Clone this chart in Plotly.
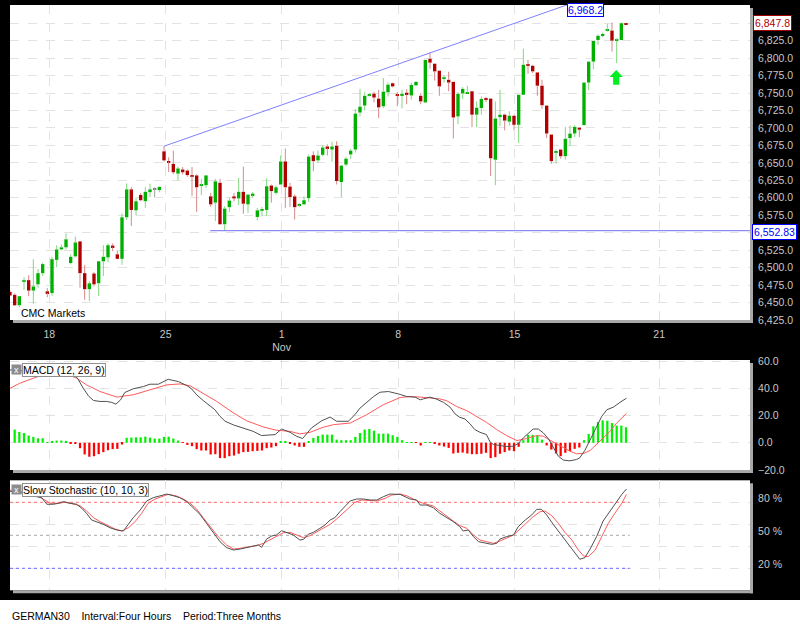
import plotly.graph_objects as go

W, H = 800, 625

# ---------------- data ----------------
opens = [6465, 6461, 6446, 6480, 6482, 6467, 6476, 6492, 6466, 6463.5,
         6511, 6526, 6529, 6506.5, 6516, 6537.5, 6492, 6469, 6491.5, 6477.5,
         6509, 6514.5, 6531.5, 6519, 6512.5, 6572, 6612, 6582, 6604, 6595,
         6608, 6612, 6611, 6666.5, 6652, 6648.5, 6634.5, 6640.5, 6639, 6632,
         6632, 6617.5, 6618, 6602, 6593, 6621.5, 6562, 6586.5, 6602, 6599,
         6608.5, 6590.5, 6603.5, 6572.5, 6582.5, 6582.5, 6617.5, 6607, 6619, 6652,
         6616, 6602, 6589.5, 6590.5, 6599.5, 6661, 6653.5, 6661.5, 6673.5, 6669,
         6674.5, 6622.5, 6647.5, 6662, 6669, 6722, 6732, 6746.5, 6749, 6742,
         6731, 6751, 6764, 6747.5, 6746.5, 6750.5, 6746.5, 6761, 6746, 6736.5,
         6799, 6792, 6782, 6770.5, 6769, 6766, 6716.5, 6749.5, 6749.5, 6752.5,
         6719, 6728.5, 6742, 6742, 6654.5, 6715.5, 6719, 6709, 6717.5, 6704.5,
         6747.5, 6790.5, 6789, 6779.5, 6760.5, 6732, 6690.5, 6665, 6669, 6659.5,
         6685.5, 6692, 6700.5, 6704, 6765, 6795, 6826, 6832, 6839.5, 6839.5,
         6825, 6826, 6849]
highs = [6467, 6463, 6459.5, 6486, 6489, 6512, 6498, 6507, 6470.5, 6515.5,
         6532, 6533, 6549, 6519, 6544.5, 6537.5, 6503.5, 6480.5, 6493.5, 6509,
         6532, 6534.5, 6534.5, 6524.5, 6577.5, 6620.5, 6615.5, 6600, 6607, 6615,
         6620, 6615, 6616.5, 6674, 6658, 6667.5, 6644.5, 6644, 6640.5, 6644,
         6633.5, 6627, 6632, 6607, 6627, 6627, 6588, 6600, 6607, 6628.5,
         6644.5, 6605.5, 6608.5, 6585.5, 6587, 6628, 6619, 6617.5, 6660.5, 6670.5,
         6621.5, 6604.5, 6592, 6602, 6662, 6666.5, 6667.5, 6675.5, 6676.5, 6680,
         6681, 6647.5, 6658.5, 6670, 6727, 6756, 6751, 6750, 6752, 6754.5,
         6771.5, 6765, 6765, 6751.5, 6754.5, 6755.5, 6765, 6767, 6750, 6797.5,
         6808, 6792, 6782, 6775.5, 6780.5, 6766, 6751.5, 6758.5, 6760.5, 6752.5,
         6738, 6745, 6744.5, 6742, 6738, 6754.5, 6720.5, 6724, 6717.5, 6747.5,
         6813.5, 6797.5, 6790.5, 6779.5, 6769, 6732, 6690.5, 6669, 6669, 6701.5,
         6703.5, 6704, 6700.5, 6765, 6795, 6824.5, 6834, 6836.5, 6849, 6851,
         6828.5, 6851, 6849.5]
lows = [6459, 6445, 6443, 6468, 6459, 6448, 6471, 6488, 6457.5, 6459.5,
        6500.5, 6524.5, 6526, 6504.5, 6514.5, 6471, 6454, 6452, 6473, 6459.5,
        6488, 6508, 6523.5, 6512, 6504, 6568, 6559.5, 6575, 6595, 6585.5,
        6601, 6601, 6608, 6652, 6637, 6634, 6625, 6633.5, 6630, 6602.5,
        6579.5, 6604, 6614, 6587, 6566.5, 6562, 6552.5, 6579.5, 6595, 6589.5,
        6577, 6578.5, 6600, 6567.5, 6574, 6574, 6593, 6604.5, 6619, 6585.5,
        6587, 6569, 6587, 6590.5, 6594, 6638, 6650, 6659.5, 6660.5, 6651.5,
        6619, 6601, 6645, 6655.5, 6665, 6716.5, 6725, 6745, 6736.5, 6714,
        6728.5, 6745, 6758, 6731, 6728, 6734, 6740.5, 6759.5, 6734, 6736.5,
        6785, 6768, 6746, 6765, 6752.5, 6685, 6705.5, 6741.5, 6749, 6701,
        6701, 6719, 6737, 6631, 6618, 6702.5, 6696.5, 6703.5, 6696.5, 6678.5,
        6747.5, 6777.5, 6778.5, 6746, 6727.5, 6685.5, 6649, 6649, 6656, 6654.5,
        6674, 6687, 6687, 6704, 6754, 6784, 6819, 6830, 6838, 6809.5,
        6793, 6826, 6847.5]
closes = [6460, 6446, 6459, 6481, 6467, 6473, 6492, 6505, 6463.5, 6512,
          6526, 6529, 6540.5, 6515.5, 6536, 6492, 6469, 6477.5, 6476, 6509,
          6515.5, 6532, 6529, 6512.5, 6572, 6612, 6582.5, 6595, 6596.5, 6608.5,
          6612, 6612, 6615.5, 6653.5, 6651, 6636.5, 6642, 6636.5, 6632.5, 6631.5,
          6615, 6618.5, 6632, 6590.5, 6623.5, 6562, 6584.5, 6596, 6599, 6608.5,
          6591.5, 6604.5, 6606, 6582, 6583.5, 6616.5, 6609.5, 6615, 6652, 6615,
          6601, 6586.5, 6591, 6596.5, 6659, 6652.5, 6660.5, 6672, 6671, 6673.5,
          6624, 6646, 6656, 6667.5, 6720.5, 6730.5, 6746, 6748, 6743.5, 6729.5,
          6752, 6762, 6759.5, 6746.5, 6749, 6748, 6761.5, 6766, 6738, 6797.5,
          6793.5, 6781, 6759.5, 6771.5, 6765, 6715, 6749, 6756, 6750.5, 6719,
          6729, 6741.5, 6740.5, 6656.5, 6713.5, 6719, 6710.5, 6717.5, 6704.5, 6747.5,
          6790.5, 6789.5, 6781, 6760.5, 6732.5, 6692, 6652.5, 6666.5, 6659.5, 6684.5,
          6692, 6701.5, 6697.5, 6765, 6795, 6824.5, 6832, 6834.5, 6840.5, 6825,
          6826, 6850, 6847.8]

macd_hist = [None, 9.7, 8.0, 7.2, 5.3, 4.3, 3.3, 3.3, 0.3, 1.1,
             1.6, 1.6, 1.4, -0.2, -0.6, -4.0, -8.6, -10.3, -9.9, -8.4,
             -6.9, -5.5, -4.7, -4.5, -1.3, 3.6, 3.8, 4.0, 4.0, 4.5,
             3.8, 3.1, 3.1, 4.3, 4.5, 3.1, 1.6, -0.1, -1.6, -2.5,
             -4.7, -5.7, -5.7, -8.6, -8.4, -11.3, -11.3, -9.9, -9.4, -8.1,
             -6.9, -6.7, -6.2, -6.0, -5.7, -4.0, -3.5, -2.5, 0.9, 0.9,
             -0.8, -2.0, -3.0, -3.0, 1.1, 3.6, 5.0, 6.0, 6.0, 6.0,
             2.3, 1.9, 1.9, 1.9, 4.3, 7.2, 9.7, 10.1, 8.9, 6.7,
             6.7, 6.7, 5.5, 4.3, 1.9, 0.4, 0.1, -0.1, -2.0, 0.2,
             0.4, -0.2, -2.0, -2.8, -3.8, -7.9, -7.4, -7.2, -7.9, -8.4,
             -8.4, -8.1, -7.4, -11.3, -10.6, -8.1, -6.9, -5.7, -6.2, -3.0,
             1.9, 5.8, 5.8, 5.3, 2.3, -2.0, -5.0, -7.9, -9.9, -7.4,
             -6.2, -4.5, -3.5, 1.9, 6.5, 12.1, 15.3, 16.5, 16.2, 14.5,
             12.6, 12.6, 11.4]

macd_x = [0, 5, 7.1, 9.3, 11.4, 13.6, 14.6, 15.7, 16.8, 17.9, 19.3, 20.7, 21.8, 22.7,
          23.7, 24.6, 26.4, 28.6, 30.0, 31.8, 33.9, 36.1, 37.9, 38.9, 40.0, 41.4,
          42.9, 43.9, 45.0, 46.1, 47.9, 50.0, 52.1, 53.9, 55.0, 56.8, 58.2, 60.0,
          61.4, 62.7, 64.6, 66.8, 68.6, 70.0, 72.5, 73.9, 75.0, 76.4, 77.9, 79.3,
          81.1, 83.6, 85.0, 86.8, 87.9, 88.6, 90.0, 91.4, 92.9, 94.3, 95.4, 96.4,
          97.5, 98.6, 99.6, 100.7, 102.1, 102.9, 103.6, 105.0, 106.4, 107.9, 108.9,
          110.0, 111.1, 112.1, 113.2, 114.3, 115.4, 116.4, 117.5, 118.6, 120.0,
          121.4, 122.1, 123.2, 124.3, 125.7, 126.8, 127.9, 129.3, 130.7, 132.1]
macd_v = [53.6, 52.3, 49.7, 50.9, 51.6, 50.9, 46.7, 40.1, 34.5, 31.1, 30.4, 30.4, 29.7, 28.4,
          31.6, 37.0, 39.7, 41.4, 43.1, 43.1, 46.7, 45.0, 42.1, 39.7, 35.3, 31.1,
          27.2, 24.3, 19.4, 15.8, 13.1, 10.9, 8.4, 5.3, 5.5, 6.0, 10.1, 7.7,
          4.8, 3.1, 10.9, 16.2, 18.9, 15.8, 15.8, 20.6, 25.5, 29.7, 34.0, 37.2,
          37.7, 35.6, 34.0, 33.6, 31.6, 32.3, 33.6, 32.1, 29.7, 26.2, 21.1, 18.7,
          17.5, 13.8, 9.7, 7.7, 6.0, 0.4, -1.3, -2.0, -2.8, -2.5, -0.6,
          3.6, 7.2, 10.1, 10.1, 7.2, 2.8, -3.0, -9.9, -12.8, -13.3,
          -12.3, -11.1, -5.5, 1.9, 11.6, 19.4, 24.3, 26.2, 29.7, 32.8]

signal_x = [0, 2.1, 5.0, 7.1, 9.3, 12.1, 14.3, 16.4, 19.3, 22.9, 26.4, 30.0, 33.6, 36.4,
            38.6, 40.7, 44.3, 47.9, 50.7, 54.3, 57.1, 60.0, 62.1, 64.3, 67.1, 69.3,
            72.9, 76.4, 80.0, 83.6, 85.7, 87.9, 90.0, 92.1, 93.6, 95.7, 97.9, 100.0,
            102.1, 104.3, 106.4, 108.6, 110.7, 112.9, 114.3, 115.7, 117.1, 118.6,
            120.0, 121.4, 122.9, 124.3, 125.7, 127.1, 128.6, 130.0, 131.1, 132.1]
signal_v = [40.1, 43.8, 47.5, 49.9, 50.6, 50.6, 47.5, 42.6, 37.7, 33.6, 35.3, 38.9, 42.6, 43.3,
            41.9, 37.7, 30.4, 21.9, 16.2, 11.6, 9.2, 8.4, 6.5, 7.7, 11.4, 13.3,
            14.5, 20.6, 28.0, 33.3, 34.0, 33.6, 32.8, 32.3, 30.9, 26.7, 23.6, 19.4,
            15.0, 9.7, 5.3, 1.6, 3.1, 5.3, 4.8, 1.9, -0.6, -3.8,
            -6.2, -8.1, -7.9, -5.7, -1.3, 3.6, 8.4, 14.5, 18.2, 21.6]

stoch_k_x = [0, 2, 4.3, 5.7, 6.8, 7.9, 9.3, 10.4, 11.4, 12.9, 14.3, 15.4, 16.4, 17.5, 18.6,
             20.0, 21.4, 22.9, 24.3, 25.4, 26.4, 27.9, 29.3, 30.7, 32.1, 33.6, 35.0,
             36.4, 37.9, 39.3, 40.7, 42.1, 43.6, 45.0, 46.4, 47.9, 49.3, 50.7, 52.1,
             53.2, 53.9, 55.0, 56.1, 57.1, 58.2, 59.3, 60.7, 62.1, 62.9, 63.9, 65.0,
             66.4, 67.5, 68.6, 69.6, 70.7, 71.8, 72.9, 74.3, 75.7, 77.1, 78.6, 80.0,
             81.4, 83.6, 84.6, 85.7, 87.1, 87.9, 89.3, 90.7, 92.1, 93.6, 95.0, 96.4,
             97.1, 98.2, 99.3, 100.4, 101.4, 102.5, 103.2, 104.3, 105.0, 106.4, 107.9,
             108.9, 110.4, 111.8, 112.9, 113.9, 115.0, 116.4, 117.9, 119.3, 120.7,
             122.1, 123.2, 124.3, 125.7, 127.1, 128.6, 130.0, 131.1, 132.1]
stoch_k_v = [90.0, 89.0, 87.5, 85.1, 84.2, 78.2, 78.2, 79.1, 80.6, 79.1, 78.2, 74.5, 70.0, 63.9, 62.4,
             60.0, 56.9, 54.8, 53.9, 60.0, 66.0, 73.0, 81.2, 84.2, 86.0, 87.5, 86.0,
             84.2, 80.6, 75.1, 69.1, 60.9, 51.8, 44.2, 38.8, 36.6, 37.5, 38.8, 40.0,
             41.2, 39.1, 46.6, 49.4, 50.3, 54.2, 52.7, 50.3, 45.7, 46.3, 50.9, 52.7,
             56.3, 59.4, 63.9, 66.0, 71.5, 76.0, 81.2, 83.0, 83.0, 82.1, 82.1, 85.1,
             87.5, 87.2, 85.1, 83.0, 82.1, 77.5, 77.5, 75.1, 70.0, 66.0, 62.4, 57.8,
             53.9, 54.8, 48.8, 44.2, 43.3, 42.7, 41.8, 42.7, 46.6, 48.8, 50.3,
             57.8, 63.9, 68.5, 73.6, 73.6, 68.5, 60.0, 51.8, 44.2, 36.6,
             28.2, 29.7, 37.5, 48.8, 63.0, 72.1, 80.6, 87.2, 92.1]

stoch_d_x = [0, 2, 4.3, 5.7, 7.1, 8.6, 10.4, 11.8, 13.2, 15.0, 16.4, 17.9, 19.3, 20.7, 22.5,
             23.9, 25.4, 26.8, 28.2, 29.6, 31.1, 32.9, 33.9, 35.7, 37.1, 38.6, 40.0,
             41.4, 42.9, 44.6, 46.4, 47.9, 49.3, 51.1, 52.9, 54.3, 55.7, 57.1, 58.6,
             60.0, 61.4, 62.9, 64.3, 65.7, 67.1, 68.6, 70.0, 71.4, 72.9, 73.9, 75.4,
             77.1, 78.6, 80.4, 81.8, 83.6, 85.0, 86.4, 87.9, 89.3, 90.7, 92.1, 93.6,
             95.0, 96.4, 97.9, 99.3, 100.7, 102.1, 103.6, 105.0, 106.4, 107.9, 109.3,
             110.7, 112.1, 113.6, 114.6, 116.1, 117.5, 118.9, 120.4, 121.8, 122.9,
             123.9, 125.4, 126.8, 128.2, 129.6, 131.1, 132.1]
stoch_d_v = [91.0, 90.0, 88.1, 86.0, 83.0, 79.1, 79.1, 80.0, 78.8, 76.9, 72.1, 66.0, 62.4, 59.4, 55.7,
             53.9, 56.9, 62.4, 70.0, 79.1, 83.0, 85.7, 87.2, 85.7, 83.0, 79.1, 73.9,
             66.0, 57.8, 48.8, 41.2, 37.5, 38.2, 39.1, 40.6, 42.7, 45.7, 49.4, 52.4,
             52.7, 50.3, 47.8, 49.7, 53.3, 56.3, 60.0, 64.8, 70.0, 76.0, 80.0, 82.1,
             81.8, 81.2, 83.6, 86.6, 87.5, 86.0, 83.0, 80.0, 78.2, 76.6, 72.1, 67.8,
             63.0, 58.8, 56.3, 50.3, 45.7, 44.2, 42.7, 44.8, 47.8, 50.3, 55.7,
             60.9, 66.9, 71.5, 72.1, 67.8, 60.9, 52.7, 45.7, 36.6, 31.2,
             30.6, 36.6, 48.8, 60.9, 70.0, 79.1, 87.2]

date_tick_pos = [8.42, 33.36, 58.2, 83.2, 108.1, 139.1]
date_tick_text = ["18", "25", "1<br>Nov", "8", "15", "21"]
price_ticks = list(range(6425, 6876, 25))
macd_ticks = [60, 40, 20, 0, -20]
stoch_ticks = [80, 50, 20]

support_level = 6552.83
support_start = 42.9
trend_start_bar, trend_start_price = 33, 6673.8
trend_end_price = 6968.2
last_price = 6847.8
arrow_bar, arrow_tip, arrow_base = 129.9, 6783, 6762

# ---------------- styling ----------------
BG = "black"
FONT = "Liberation Sans"
TICK_COL = "#c8c8c8"
GRID_COL = "#e2e2e2"
G_BODY, G_WICK = "#00b000", "#80d880"
R_BODY, R_WICK = "#b00000", "#d88888"
N_BODY, N_WICK = "#808080", "#a0a0a0"
TICK_FONT = dict(color=TICK_COL, size=10.5, family=FONT)

X0_PX, X1_PX = 10, 750
MAIN_PX = (5, 320)
MACD_PX = (360, 470)
STO_PX = (480.3, 590.3)
X_RANGE = [0, (X1_PX - X0_PX) / 4.6667]
MAIN_RANGE = [6424.9, 6876.1]
STO_LABEL_SHIFT = 3.6   # stochastic labels sit ~4px above their lines


def px(x):
    return x / W


def py(y):
    return 1 - y / H


n = len(closes)

fig = go.Figure()

# wicks (split above/below the body so they never cross the body)
wick_groups = {"g": ([], []), "r": ([], []), "n": ([], [])}
body_x, body_base, body_h, body_col = [], [], [], []
for i, (o, h, l, c) in enumerate(zip(opens, highs, lows, closes)):
    key = "g" if c > o else ("r" if c < o else "n")
    top, bot = max(o, c), min(o, c)
    wx, wy = wick_groups[key]
    if h > top:
        wx += [i, i, None]
        wy += [top, h, None]
    if l < bot:
        wx += [i, i, None]
        wy += [l, bot, None]
    hgt = top - bot
    if hgt < 1.4:
        mid = (top + bot) / 2
        bot, hgt = mid - 0.7, 1.4
    body_x.append(i)
    body_base.append(bot)
    body_h.append(hgt)
    body_col.append({"g": G_BODY, "r": R_BODY, "n": N_BODY}[key])

for key, col in (("g", G_WICK), ("r", R_WICK), ("n", N_WICK)):
    wx, wy = wick_groups[key]
    fig.add_trace(go.Scatter(x=wx, y=wy, mode="lines", line=dict(color=col, width=1),
                             xaxis="x", yaxis="y", hoverinfo="skip"))

fig.add_trace(go.Bar(x=body_x, y=body_h, base=body_base, width=0.72,
                     marker=dict(color=body_col, line=dict(width=0)),
                     xaxis="x", yaxis="y"))

# MACD panel
hist_x = [i for i, v in enumerate(macd_hist) if v is not None]
hist_v = [v for v in macd_hist if v is not None]
fig.add_trace(go.Bar(x=hist_x, y=hist_v, width=0.48,
                     marker=dict(color=["#00f000" if v >= 0 else "#ff0000" for v in hist_v],
                                 line=dict(width=0)),
                     xaxis="x2", yaxis="y2"))
fig.add_trace(go.Scatter(x=signal_x, y=signal_v, mode="lines",
                         line=dict(color="#ff5a5a", width=1), xaxis="x2", yaxis="y2"))
fig.add_trace(go.Scatter(x=macd_x, y=macd_v, mode="lines",
                         line=dict(color="#505050", width=1), xaxis="x2", yaxis="y2"))

# Stochastic panel
ref_end = n - 1 + 0.8
for lvl, col in ((80, "#ff7070"), (50, "#a8a8a8"), (20, "#6a6aff")):
    fig.add_trace(go.Scatter(x=[0, ref_end], y=[lvl, lvl], mode="lines",
                             line=dict(color=col, width=1, dash="dot"),
                             xaxis="x3", yaxis="y3", hoverinfo="skip"))
fig.add_trace(go.Scatter(x=stoch_d_x, y=stoch_d_v, mode="lines",
                         line=dict(color="#ff5a5a", width=1), xaxis="x3", yaxis="y3"))
fig.add_trace(go.Scatter(x=stoch_k_x, y=stoch_k_v, mode="lines",
                         line=dict(color="#505050", width=1), xaxis="x3", yaxis="y3"))

# price labels hidden behind the coloured value boxes
price_text = ["" if (abs(v - last_price) < 12 or abs(v - support_level) < 12) else f"{v:,.1f}"
              for v in price_ticks]

xdom = [px(X0_PX), px(X1_PX)]
xcommon = dict(range=X_RANGE, domain=xdom, tickvals=date_tick_pos, showgrid=True,
               gridcolor=GRID_COL, griddash="dash", gridwidth=1, zeroline=False,
               showline=False, fixedrange=True, automargin=False)
ycommon = dict(side="right", showgrid=True, gridcolor=GRID_COL, griddash="dash",
               zeroline=False, showline=False, ticks="outside", ticklen=5,
               tickcolor="rgba(0,0,0,0)", tickfont=TICK_FONT, automargin=False)

fig.update_layout(
    width=W, height=H, autosize=False,
    margin=dict(l=0, r=0, t=0, b=0, pad=0),
    paper_bgcolor=BG, plot_bgcolor="white",
    showlegend=False, barmode="overlay",
    font=dict(family=FONT, size=10, color="black"),
    xaxis=dict(**xcommon, anchor="y", ticktext=date_tick_text, ticks="outside", ticklen=4,
               tickcolor="rgba(0,0,0,0)", tickfont=TICK_FONT),
    yaxis=dict(**ycommon, domain=[py(MAIN_PX[1]), py(MAIN_PX[0])], range=MAIN_RANGE,
               tickvals=price_ticks, ticktext=price_text, anchor="x"),
    xaxis2=dict(**xcommon, anchor="y2", showticklabels=False, matches="x"),
    yaxis2=dict(**ycommon, domain=[py(MACD_PX[1]), py(MACD_PX[0])], range=[-20.05, 60.9],
                tickvals=macd_ticks, tickformat=".1f", anchor="x2"),
    xaxis3=dict(**xcommon, anchor="y3", showticklabels=False, matches="x"),
    yaxis3=dict(side="right", domain=[py(STO_PX[1]), py(STO_PX[0])], range=[0, 100],
                tickvals=[v + STO_LABEL_SHIFT for v in stoch_ticks],
                ticktext=[f"{v} %" for v in stoch_ticks],
                showgrid=False, zeroline=False, showline=False, ticks="outside", ticklen=5,
                tickcolor="rgba(0,0,0,0)", tickfont=TICK_FONT, automargin=False,
                minor=dict(tickvals=[20, 40, 60, 80], showgrid=True, gridcolor=GRID_COL,
                           griddash="dash", ticks=""),
                anchor="x3"),
)

shapes = []
# panel drop shadows and bottom white strip
for top, bot in (MAIN_PX, MACD_PX, STO_PX):
    shapes.append(dict(type="rect", xref="paper", yref="paper", x0=px(X1_PX), x1=px(X1_PX + 3),
                       y0=py(bot + 3), y1=py(top + 3), fillcolor="#a8a8a8", line_width=0,
                       layer="below"))
    shapes.append(dict(type="rect", xref="paper", yref="paper", x0=px(X0_PX + 3), x1=px(X1_PX + 3),
                       y0=py(bot + 3), y1=py(bot), fillcolor="#a8a8a8", line_width=0,
                       layer="below"))
shapes.append(dict(type="rect", xref="paper", yref="paper", x0=0, x1=1, y0=0, y1=py(600),
                   fillcolor="white", line_width=0, layer="below"))

# trend line and support line
shapes.append(dict(type="line", xref="x", yref="y", x0=trend_start_bar, y0=trend_start_price,
                   x1=X_RANGE[1], y1=trend_end_price, line=dict(color="#8080ff", width=1)))
shapes.append(dict(type="line", xref="x", yref="y", x0=support_start, y0=support_level,
                   x1=X_RANGE[1], y1=support_level, line=dict(color="#7070f0", width=1)))

# green up arrow
hw, sw = 1.45, 0.65
head = arrow_tip - 10
shapes.append(dict(type="path", xref="x", yref="y", fillcolor="#00ee22", line=dict(width=0),
                   path=(f"M {arrow_bar},{arrow_tip} L {arrow_bar + hw},{head} "
                         f"L {arrow_bar + sw},{head} L {arrow_bar + sw},{arrow_base} "
                         f"L {arrow_bar - sw},{arrow_base} L {arrow_bar - sw},{head} "
                         f"L {arrow_bar - hw},{head} Z")))
fig.update_layout(shapes=shapes)

# where the trend line leaves the top of the price panel
t_top = (MAIN_RANGE[1] - trend_start_price) / (trend_end_price - trend_start_price)
x_exit = trend_start_bar + t_top * (X_RANGE[1] - trend_start_bar)

ann = []
ann.append(dict(x=x_exit, y=py(3), xref="x", yref="paper", xanchor="left", yanchor="top",
                text=f"{trend_end_price:,.1f}", showarrow=False, bgcolor="white",
                bordercolor="#0000ff", borderwidth=1, borderpad=0,
                font=dict(color="#0000ff", size=10.5, family=FONT)))
ann.append(dict(x=px(753), y=last_price + 3, xref="paper", yref="y", xanchor="left",
                yanchor="middle", text=f"{last_price:,.1f}", showarrow=False, bgcolor="white",
                bordercolor="#a00000", borderwidth=1, borderpad=1,
                font=dict(color="#b00000", size=10.5, family=FONT)))
ann.append(dict(x=px(752), y=support_level - 2, xref="paper", yref="y", xanchor="left",
                yanchor="middle", text=f"{support_level:,.2f}", showarrow=False, bgcolor="white",
                bordercolor="#0000ff", borderwidth=1, borderpad=1,
                font=dict(color="#0000ff", size=10.5, family=FONT)))
ann.append(dict(x=px(19), y=py(313), xref="paper", yref="paper", xanchor="left",
                yanchor="middle", text="CMC Markets", showarrow=False,
                font=dict(color="black", size=10.5, family=FONT)))
for top_px, label in ((MACD_PX[0], "MACD (12, 26, 9)"), (STO_PX[0], "Slow Stochastic (10, 10, 3)")):
    ann.append(dict(x=px(11), y=py(top_px + 3.5), xref="paper", yref="paper", xanchor="left",
                    yanchor="top", text="x", showarrow=False, bgcolor="#8c8c8c",
                    width=9, height=9, borderpad=0,
                    font=dict(color="white", size=9, family=FONT)))
    ann.append(dict(x=px(22), y=py(top_px + 2.5), xref="paper", yref="paper", xanchor="left",
                    yanchor="top", text=label, showarrow=False, bgcolor="white",
                    bordercolor="#909090", borderwidth=1, borderpad=0,
                    font=dict(color="black", size=10.5, family=FONT)))
ann.append(dict(x=px(10), y=py(616), xref="paper", yref="paper", xanchor="left",
                yanchor="middle",
                text="GERMAN30&nbsp;&nbsp;&nbsp;&nbsp;Interval:Four Hours&nbsp;&nbsp;&nbsp;&nbsp;Period:Three Months",
                showarrow=False, font=dict(color="black", size=10.5, family=FONT)))
fig.update_layout(annotations=ann)

fig.write_html("out.html")
